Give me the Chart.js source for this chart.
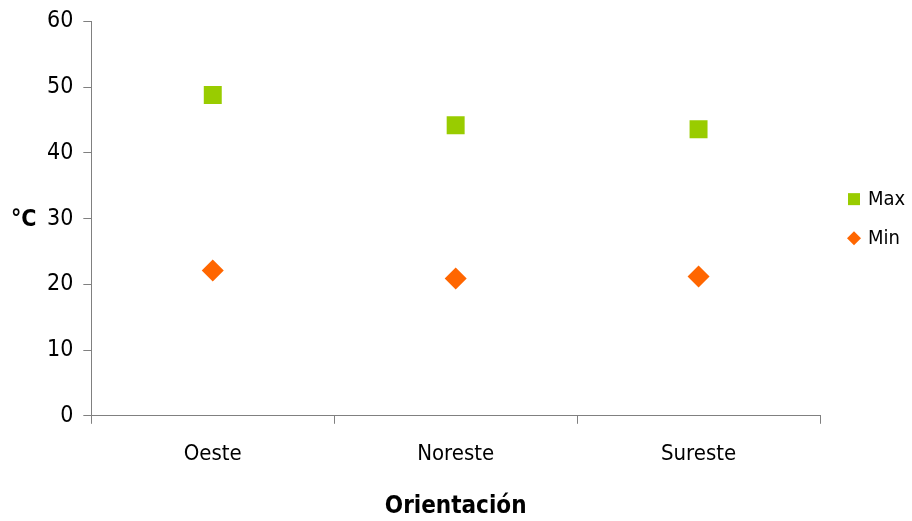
<!DOCTYPE html>
<html>
<head>
<meta charset="utf-8">
<script src="https://cdn.jsdelivr.net/npm/chart.js@4"></script>
<style>
  html, body { margin: 0; padding: 0; background: #fff; }
  #wrap { width: 912px; height: 521px; }
</style>
</head>
<body>
<div id="wrap"><canvas id="c" width="912" height="521"></canvas></div>
<script>
// Temperatures per wall orientation
const categories = ['Oeste', 'Noreste', 'Sureste'];
const maxValues = [48.8, 44.2, 43.6];
const minValues = [22.1, 20.9, 21.2];
const yTicks = [0, 10, 20, 30, 40, 50, 60];

const FONT = "'DejaVu Sans Condensed', 'Liberation Sans Narrow', 'Liberation Sans', sans-serif";
const AXIS = '#808080';

// Unrotated unit label beside the value axis
const unitLabel = {
  id: 'unitLabel',
  afterDraw(chart) {
    const { ctx, chartArea } = chart;
    ctx.save();
    ctx.font = "bold 23px " + FONT;
    ctx.fillStyle = '#000';
    ctx.textAlign = 'left';
    ctx.textBaseline = 'middle';
    ctx.fillText('°C', 11, (chartArea.top + chartArea.bottom) / 2 + 1);
    ctx.restore();
  }
};

// Series key on the right, aligned with the middle of the plot
const seriesKey = {
  id: 'seriesKey',
  afterDraw(chart) {
    const { ctx, chartArea } = chart;
    const mid = (chartArea.top + chartArea.bottom) / 2;
    const x0 = 854;
    const rowGap = 39;
    const startY = mid - rowGap / 2;
    ctx.save();
    ctx.font = "20px " + FONT;
    ctx.textAlign = 'left';
    ctx.textBaseline = 'middle';
    chart.data.datasets.forEach((ds, i) => {
      const y = startY + i * rowGap;
      ctx.fillStyle = ds.pointBackgroundColor;
      if (ds.pointStyle === 'rect') {
        ctx.fillRect(x0 - 6, y - 6, 12, 12);
      } else {
        ctx.beginPath();
        ctx.moveTo(x0, y - 7);
        ctx.lineTo(x0 + 7, y);
        ctx.lineTo(x0, y + 7);
        ctx.lineTo(x0 - 7, y);
        ctx.closePath();
        ctx.fill();
      }
      ctx.fillStyle = '#000';
      ctx.fillText(ds.label, x0 + 14, y + 1);
    });
    ctx.restore();
  }
};

new Chart(document.getElementById('c'), {
  type: 'line',
  data: {
    labels: categories,
    datasets: [
      {
        label: 'Max',
        data: maxValues,
        showLine: false,
        pointStyle: 'rect',
        pointRadius: 12.7,
        pointHoverRadius: 12.7,
        pointBackgroundColor: '#99cc00',
        pointBorderColor: '#99cc00',
        pointBorderWidth: 0
      },
      {
        label: 'Min',
        data: minValues,
        showLine: false,
        pointStyle: 'rectRot',
        pointRadius: 11,
        pointHoverRadius: 11,
        pointBackgroundColor: '#ff6600',
        pointBorderColor: '#ff6600',
        pointBorderWidth: 0
      }
    ]
  },
  options: {
    responsive: false,
    animation: false,
    layout: { padding: { left: 37, top: 7, right: 92, bottom: 0 } },
    plugins: {
      tooltip: { enabled: false },
      legend: { display: false }
    },
    scales: {
      x: {
        type: 'category',
        offset: true,
        grid: {
          offset: true,
          drawOnChartArea: false,
          drawTicks: true,
          tickLength: 8,
          color: AXIS
        },
        border: { color: AXIS, width: 1 },
        ticks: {
          color: '#000',
          padding: 17,
          font: { family: FONT, size: 22 }
        },
        title: {
          display: true,
          text: 'Orientación',
          color: '#000',
          font: { family: FONT, size: 24, weight: 'bold' },
          padding: { top: 8, bottom: 0 }
        }
      },
      y: {
        min: 0,
        max: 60,
        afterBuildTicks(scale) {
          scale.ticks = yTicks.map(v => ({ value: v }));
        },
        grid: {
          drawOnChartArea: false,
          drawTicks: true,
          tickLength: 8,
          color: AXIS
        },
        border: { color: AXIS, width: 1 },
        ticks: {
          color: '#000',
          padding: 10,
          font: { family: FONT, size: 23, lineHeight: 1.0 }
        }
      }
    }
  },
  plugins: [unitLabel, seriesKey]
});
</script>
</body>
</html>
